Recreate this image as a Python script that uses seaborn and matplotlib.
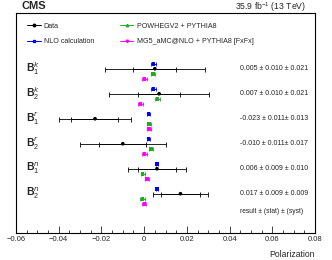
import numpy as np
import pandas as pd
import matplotlib
matplotlib.use("Agg")
import matplotlib.pyplot as plt
import matplotlib.ticker as mtick
from matplotlib.lines import Line2D
import seaborn as sns

# values
labels = [r"$\mathbf{B}_{1}^{k}$", r"$\mathbf{B}_{2}^{k}$", r"$\mathbf{B}_{1}^{r}$",
          r"$\mathbf{B}_{2}^{r}$", r"$\mathbf{B}_{1}^{n}$", r"$\mathbf{B}_{2}^{n}$"]
data_val = [0.005, 0.007, -0.023, -0.010, 0.006, 0.017]
data_stat = [0.010, 0.010, 0.011, 0.011, 0.009, 0.009]
data_syst = [0.021, 0.021, 0.013, 0.017, 0.010, 0.009]
result_txt = ["0.005 ± 0.010 ± 0.021", "0.007 ± 0.010 ± 0.021", "-0.023 ± 0.011± 0.013",
              "-0.010 ± 0.011± 0.017", "0.006 ± 0.009 ± 0.010", "0.017 ± 0.009 ± 0.009"]
nlo_val = [0.0044, 0.0044, 0.0020, 0.0020, 0.0060, 0.0060]
nlo_err = [0.0012, 0.0012, 0.0008, 0.0008, 0.0005, 0.0005]
powheg_val = [0.0040, 0.0062, 0.0023, 0.0031, -0.0007, -0.0008]
powheg_err = [0.0010, 0.0010, 0.0008, 0.0010, 0.0010, 0.0010]
mg5_val = [0.0002, -0.0017, 0.0023, 0.0002, 0.0012, 0.0001]
mg5_err = [0.0010, 0.0010, 0.0008, 0.0010, 0.0010, 0.0010]
legend_names = ["Data", "NLO calculation", "POWHEGV2 + PYTHIA8", "MG5_aMC@NLO + PYTHIA8 [FxFx]"]

sns.set_style("ticks")
plt.rcParams["font.family"] = ["Liberation Sans", "DejaVu Sans"]
plt.rcParams["mathtext.fontset"] = "custom"
plt.rcParams["mathtext.rm"] = "Liberation Sans"
plt.rcParams["mathtext.bf"] = "Liberation Sans:bold"

fig = plt.figure(figsize=(3.32, 2.60), dpi=100)
ax = fig.add_axes([0.048, 0.104, 0.901, 0.846])

rows = 2.23 + np.arange(len(labels))
total = np.sqrt(np.array(data_stat) ** 2 + np.array(data_syst) ** 2)

df = pd.DataFrame({
    "x": data_val + nlo_val + powheg_val + mg5_val,
    "y": np.concatenate([rows, rows - 0.2, rows + 0.2, rows + 0.4]),
    "kind": ["Data"] * 6 + ["NLO"] * 6 + ["POWHEG"] * 6 + ["MG5"] * 6,
})
colors = {"Data": "black", "NLO": "#0000ff", "POWHEG": "#22aa22", "MG5": "#ff00ff"}

# data: total uncertainty with caps and stat ticks
ax.errorbar(data_val, rows, xerr=total, fmt="none", ecolor="black", elinewidth=0.6,
            capsize=1.8, capthick=0.6)
ax.errorbar(data_val, rows, xerr=data_stat, fmt="none", ecolor="black", elinewidth=0.6,
            capsize=1.8, capthick=0.6)
ax.errorbar(nlo_val, rows - 0.2, xerr=nlo_err, fmt="none", ecolor=colors["NLO"],
            elinewidth=0.8, capsize=1.5, capthick=0.6)
ax.errorbar(powheg_val, rows + 0.2, xerr=powheg_err, fmt="none", ecolor=colors["POWHEG"],
            elinewidth=0.8, capsize=1.5, capthick=0.6)
ax.errorbar(mg5_val, rows + 0.4, xerr=mg5_err, fmt="none", ecolor=colors["MG5"],
            elinewidth=0.8, capsize=1.5, capthick=0.6)

sns.scatterplot(data=df, x="x", y="y", hue="kind", style="kind", palette=colors,
                markers={"Data": "o", "NLO": "s", "POWHEG": "s", "MG5": "s"},
                s=7, linewidth=0, ax=ax, legend=False, zorder=5)

for r, lab, txt in zip(rows, labels, result_txt):
    ax.text(-0.0555, r, lab, fontsize=7.5, va="center", ha="left")
    ax.text(0.045, r, txt, fontsize=5.0, va="center", ha="left", color="#222222")
ax.text(0.045, rows[-1] + 0.7, "result ± (stat) ± (syst)", fontsize=4.8, va="center",
        ha="left", color="#222222")

ax.set_xlim(-0.06, 0.08)
ax.set_ylim(8.8, 0)
ax.set_yticks([])
ax.set_ylabel("")
ax.set_xlabel("Polarization", fontsize=6.2, loc="right", labelpad=5)
ax.xaxis.set_major_locator(mtick.MultipleLocator(0.02))
ax.xaxis.set_minor_locator(mtick.MultipleLocator(0.005))
ax.xaxis.set_major_formatter(mtick.FuncFormatter(
    lambda v, _: "0" if abs(v) < 1e-9 else f"{v:.2f}".replace("-", "\u2212")))
ax.tick_params(axis="x", which="major", direction="in", length=5, width=0.6, labelsize=5.5, pad=2)
ax.tick_params(axis="x", which="minor", direction="in", length=2.5, width=0.6)
for sp in ax.spines.values():
    sp.set_linewidth(0.8)
    sp.set_color("black")

handles = [
    Line2D([], [], color="black", marker="o", markersize=1.8, lw=0.7),
    Line2D([], [], color=colors["NLO"], marker="s", markersize=1.8, lw=0.7),
    Line2D([], [], color=colors["POWHEG"], marker="^", markersize=1.8, lw=0.7),
    Line2D([], [], color=colors["MG5"], marker="v", markersize=1.8, lw=0.7),
]
ax.legend([handles[0], handles[1], handles[2], handles[3]],
          [legend_names[0], legend_names[1], legend_names[2], legend_names[3]],
          ncol=2, loc="upper left", bbox_to_anchor=(0.017, 0.985), frameon=False,
          fontsize=5.1, handlelength=1.85, columnspacing=3.7, labelspacing=1.2,
          handletextpad=0.45)

fig.text(0.066, 0.977, "CMS", fontsize=8, fontweight="bold", ha="left", va="center")
fig.text(0.922, 0.974, "35.9 fb$^{-1}$ (13 TeV)", fontsize=6.2, ha="right", va="center")

fig.savefig("out.png", dpi=100)
